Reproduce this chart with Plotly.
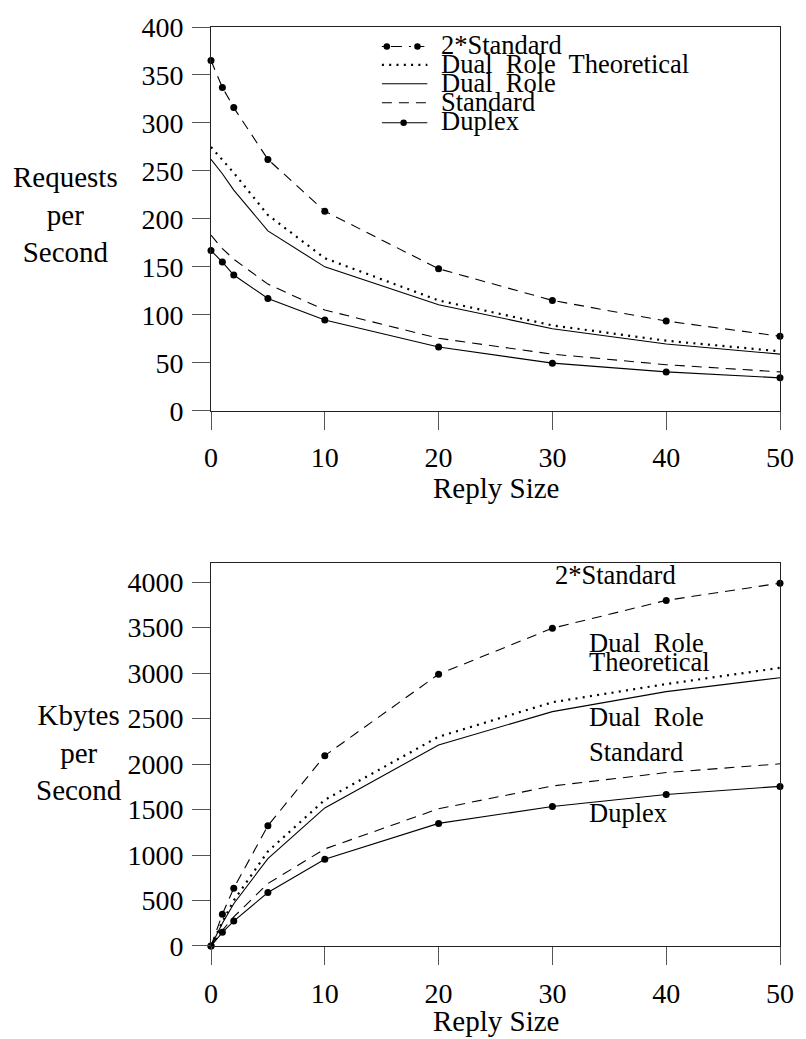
import plotly.graph_objects as go

# Reply sizes measured
reply_size = [0, 1, 2, 5, 10, 20, 30, 40, 50]

# Requests per second
rps_two_std = [365, 337, 316, 262, 208, 148, 115, 93.5, 77.7]
rps_dual_theo = [275, 262, 248, 204, 159, 115, 89, 73, 62]
rps_dual = [262, 247, 230, 187.5, 150, 110.5, 85.5, 69.5, 59]
rps_std = [183, 169, 158, 132, 105, 75.5, 59, 48, 40.5]
rps_duplex = [167, 155, 141.5, 117, 94.6, 66.5, 49.6, 40.5, 34.3]

# Kbytes per second
kbs_two_std = [0, 350, 636, 1322, 2093, 2988, 3494, 3800, 3989]
kbs_dual_theo = [0, 265, 500, 1040, 1607, 2301, 2680, 2880, 3058]
kbs_dual = [0, 250, 465, 961, 1518, 2210, 2577, 2797, 2950]
kbs_std = [0, 172, 320, 687, 1067, 1509, 1759, 1907, 2003]
kbs_duplex = [0, 150, 274, 588, 953, 1348, 1534, 1666, 1755]

series_names = ["2*Standard", "Dual\u00a0 Role\u00a0 Theoretical", "Dual\u00a0 Role", "Standard", "Duplex"]
x_ticks = [0, 10, 20, 30, 40, 50]
rps_ticks = [0, 50, 100, 150, 200, 250, 300, 350, 400]
kbs_ticks = [0, 500, 1000, 1500, 2000, 2500, 3000, 3500, 4000]

FONT = "'Liberation Serif', 'Times New Roman', Times, 'DejaVu Serif', serif"
W, H = 806, 1039
L, R, T, B = 211, 787, 24, 946


def px(x):
    return (x - L) / (R - L)


def py(y):
    return (B - y) / (B - T)


DASH = "10px,7px"
DOT = "2px,5.3px"
styles = [
    dict(dash=DASH, width=1.1, marker=True),
    dict(dash=DOT, width=2.2, marker=False),
    dict(dash="solid", width=1.1, marker=False),
    dict(dash=DASH, width=1.1, marker=False),
    dict(dash="solid", width=1.1, marker=True),
]

fig = go.Figure()

for xa, ya, data in [
    ("x", "y", [rps_two_std, rps_dual_theo, rps_dual, rps_std, rps_duplex]),
    ("x2", "y2", [kbs_two_std, kbs_dual_theo, kbs_dual, kbs_std, kbs_duplex]),
]:
    for name, vals, st in zip(series_names, data, styles):
        fig.add_trace(go.Scatter(
            x=reply_size, y=vals, name=name, xaxis=xa, yaxis=ya,
            mode="lines+markers" if st["marker"] else "lines",
            line=dict(color="black", width=st["width"], dash=st["dash"]),
            marker=dict(color="black", size=7),
            cliponaxis=False, showlegend=False,
        ))

axis_common = dict(
    showline=True, linecolor="#222", linewidth=1, mirror=True,
    ticks="outside", ticklen=18, tickwidth=1.2, tickcolor="#555",
    showgrid=False, zeroline=False,
    tickfont=dict(family=FONT, size=28, color="black"),
)

top_dom = [py(409), 1.0]
bot_dom = [0.0, py(562)]

fig.update_layout(
    width=W, height=H,
    margin=dict(l=L, r=W - R, t=T, b=H - B),
    paper_bgcolor="white", plot_bgcolor="white",
    showlegend=False,
    font=dict(family=FONT, color="black"),
    xaxis=dict(domain=[0, 1], range=[0, 50], tickvals=x_ticks, anchor="y",
               ticklabelstandoff=4, **axis_common),
    yaxis=dict(domain=top_dom, range=[0, 400], tickvals=rps_ticks, anchor="x",
               ticklabelstandoff=3, **axis_common),
    xaxis2=dict(domain=[0, 1], range=[0, 50], tickvals=x_ticks, anchor="y2",
                ticklabelstandoff=4, **axis_common),
    yaxis2=dict(domain=bot_dom, range=[0, 4000 * 384 / 365], tickvals=kbs_ticks, anchor="x2",
                ticklabelstandoff=3, **axis_common),
)

ann = []


def text(x, y, s, size=26.5, xanchor="left"):
    ann.append(dict(x=px(x), y=py(y), xref="paper", yref="paper", text=s,
                    showarrow=False, xanchor=xanchor, yanchor="middle",
                    align="center", font=dict(family=FONT, size=size, color="black")))


# axis titles
text(64, 212, "Requests<br>per<br>Second", size=29, xanchor="center")
text(77, 752, "Kbytes<br>per<br>Second", size=29, xanchor="center")
text(499, 487, "Reply Size", size=29, xanchor="center")
text(499, 1021, "Reply Size", size=29, xanchor="center")

# key for the upper panel
key_rows = [43.5, 62, 81, 100, 120]
key_text_y = [41.7, 61, 80.5, 99.5, 118.8]
for s, ty in zip(series_names, key_text_y):
    text(442, ty, s)

shapes = []


def seg(x0, x1, y, dash, width):
    shapes.append(dict(type="line", xref="paper", yref="paper",
                       x0=px(x0), x1=px(x1), y0=py(y), y1=py(y),
                       line=dict(color="black", width=width, dash=dash)))


def dot(x, y, r=3.3):
    shapes.append(dict(type="circle", xref="paper", yref="paper",
                       x0=px(x - r), x1=px(x + r), y0=py(y + r), y1=py(y - r),
                       fillcolor="black", line=dict(color="black", width=0)))


seg(384, 427, key_rows[0], "2px,7px,11px,7px", 1.1)
dot(389, key_rows[0])
dot(420, key_rows[0])
seg(384, 430, key_rows[1], DOT, 2.2)
seg(384, 430, key_rows[2], "solid", 1.1)
seg(384, 430, key_rows[3], DASH, 1.1)
seg(384, 430, key_rows[4], "solid", 1.1)
dot(406, key_rows[4])

# curve labels in the lower panel
text(557, 574, "2*Standard")
text(592, 642, "Dual\u00a0 Role")
text(592, 661, "Theoretical")
text(592, 716, "Dual\u00a0 Role")
text(592, 751, "Standard")
text(592, 813, "Duplex")

fig.update_layout(annotations=ann, shapes=shapes)
fig.write_html("out.html")
